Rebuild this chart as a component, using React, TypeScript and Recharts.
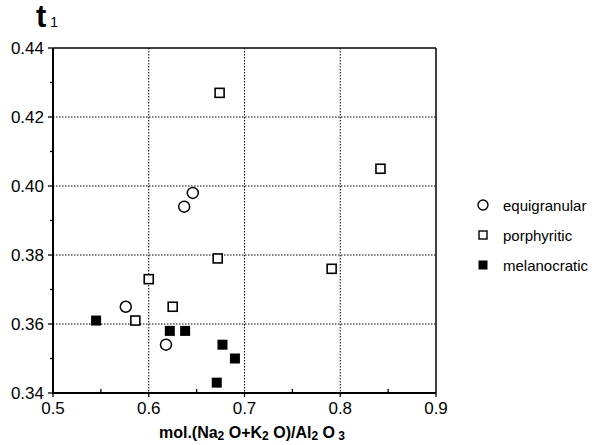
import React from "react";
import { ScatterChart, Scatter, XAxis, YAxis, CartesianGrid, ReferenceLine } from "recharts";

const xTicks = [0.5, 0.55, 0.6, 0.65, 0.7, 0.75, 0.8, 0.85, 0.9];
const xMajor = [0.5, 0.6, 0.7, 0.8, 0.9];
const yTicks = [0.34, 0.35, 0.36, 0.37, 0.38, 0.39, 0.4, 0.41, 0.42, 0.43, 0.44];
const yMajor = [0.34, 0.36, 0.38, 0.4, 0.42, 0.44];

const equigranular = [
  { x: 0.646, y: 0.398 },
  { x: 0.637, y: 0.394 },
  { x: 0.576, y: 0.365 },
  { x: 0.618, y: 0.354 },
];
const porphyritic = [
  { x: 0.674, y: 0.427 },
  { x: 0.842, y: 0.405 },
  { x: 0.672, y: 0.379 },
  { x: 0.6, y: 0.373 },
  { x: 0.625, y: 0.365 },
  { x: 0.586, y: 0.361 },
  { x: 0.791, y: 0.376 },
];
const melanocratic = [
  { x: 0.545, y: 0.361 },
  { x: 0.622, y: 0.358 },
  { x: 0.638, y: 0.358 },
  { x: 0.677, y: 0.354 },
  { x: 0.69, y: 0.35 },
  { x: 0.671, y: 0.343 },
];

const FONT = "'Liberation Sans', Arial, Helvetica, sans-serif";

const isMajor = (list: number[], v: number) => list.some((m) => Math.abs(m - v) < 1e-6);

const YTick = (props: any) => {
  const { x, y, payload } = props;
  const major = isMajor(yMajor, payload.value);
  return (
    <g>
      <line x1={x - (major ? 5 : 3)} x2={x} y1={y} y2={y} stroke="#000" strokeWidth={1.3} />
      {major && (
        <text x={x - 9} y={y} dy="0.36em" textAnchor="end" fontSize={17} fontFamily={FONT} fill="#000">
          {payload.value.toFixed(2)}
        </text>
      )}
    </g>
  );
};

const XTick = (props: any) => {
  const { x, y, payload } = props;
  const major = isMajor(xMajor, payload.value);
  return (
    <g>
      <line x1={x} x2={x} y1={y - (major ? 0 : 4)} y2={y + (major ? 4 : 0)} stroke="#000" strokeWidth={1.3} />
      {major && (
        <text x={x} y={y + 21} textAnchor="middle" fontSize={17} fontFamily={FONT} fill="#000">
          {payload.value.toFixed(1)}
        </text>
      )}
    </g>
  );
};

const Circle = (p: any) => <circle cx={p.cx} cy={p.cy} r={5.5} fill="#fff" stroke="#000" strokeWidth={1.5} />;
const OpenSquare = (p: any) => (
  <rect x={p.cx - 4.5} y={p.cy - 4.5} width={9} height={9} fill="#fff" stroke="#000" strokeWidth={1.6} />
);
const FilledSquare = (p: any) => <rect x={p.cx - 5} y={p.cy - 5} width={10} height={10} fill="#000" />;

const XLabel = () => (
  <text x={252} y={438} textAnchor="middle" fontSize={16} fontWeight="bold" fontFamily={FONT} fill="#000">
    mol.(Na<tspan fontSize={12} dy={2}>2</tspan>
    <tspan dy={-2}> O+K</tspan>
    <tspan fontSize={12} dy={2}>2</tspan>
    <tspan dy={-2}> O)/Al</tspan>
    <tspan fontSize={12} dy={2}>2</tspan>
    <tspan dy={-2}> O</tspan>
    <tspan fontSize={12} dy={2}> 3</tspan>
  </text>
);

const legendItems = [
  { name: "equigranular", shape: <circle cx={7} cy={7} r={5} fill="#fff" stroke="#000" strokeWidth={1.4} /> },
  { name: "porphyritic", shape: <rect x={3} y={3} width={8} height={8} fill="#fff" stroke="#000" strokeWidth={1.4} /> },
  { name: "melanocratic", shape: <rect x={2.5} y={2.5} width={9} height={9} fill="#000" /> },
];

export default function App() {
  return (
    <div style={{ position: "relative", width: 604, height: 445, overflow: "hidden", background: "#fff" }}>
      <style>{"body{margin:0}"}</style>
      <div
        style={{
          position: "absolute",
          left: 36,
          top: 0,
          fontFamily: FONT,
          fontWeight: "bold",
          fontSize: 31,
          lineHeight: "34px",
          color: "#000",
        }}
      >
        t<span style={{ fontSize: 14, fontWeight: "normal", marginLeft: 4 }}>1</span>
      </div>
      <ScatterChart width={604} height={445} margin={{ top: 48, right: 168, bottom: 0, left: 0 }}>
        <CartesianGrid
          stroke="#000"
          strokeWidth={1}
          strokeDasharray="1.5 1.5"
          horizontalValues={[0.36, 0.38, 0.4, 0.42]}
          verticalValues={[0.6, 0.7, 0.8]}
        />
        <XAxis
          type="number"
          dataKey="x"
          domain={[0.5, 0.9]}
          ticks={xTicks}
          interval={0}
          height={52}
          tickLine={false}
          tickSize={0}
          tickMargin={0}
          tick={<XTick />}
          axisLine={{ stroke: "#000", strokeWidth: 2 }}
          label={<XLabel />}
        />
        <YAxis
          type="number"
          dataKey="y"
          domain={[0.34, 0.44]}
          ticks={yTicks}
          interval={0}
          width={53}
          tickLine={false}
          tickSize={0}
          tickMargin={0}
          tick={<YTick />}
          axisLine={{ stroke: "#000", strokeWidth: 2 }}
        />
        <ReferenceLine y={0.44} stroke="#000" strokeWidth={1.5} />
        <ReferenceLine x={0.9} stroke="#000" strokeWidth={1.5} />
        <Scatter name="equigranular" data={equigranular} shape={<Circle />} isAnimationActive={false} />
        <Scatter name="porphyritic" data={porphyritic} shape={<OpenSquare />} isAnimationActive={false} />
        <Scatter name="melanocratic" data={melanocratic} shape={<FilledSquare />} isAnimationActive={false} />
      </ScatterChart>
      <div style={{ position: "absolute", left: 476, top: 190, fontFamily: FONT, fontSize: 15, color: "#000" }}>
        {legendItems.map((it) => (
          <div key={it.name} style={{ display: "flex", alignItems: "center", height: 30, whiteSpace: "nowrap" }}>
            <svg width={14} height={14} style={{ marginRight: 13 }}>
              {it.shape}
            </svg>
            {it.name}
          </div>
        ))}
      </div>
    </div>
  );
}
